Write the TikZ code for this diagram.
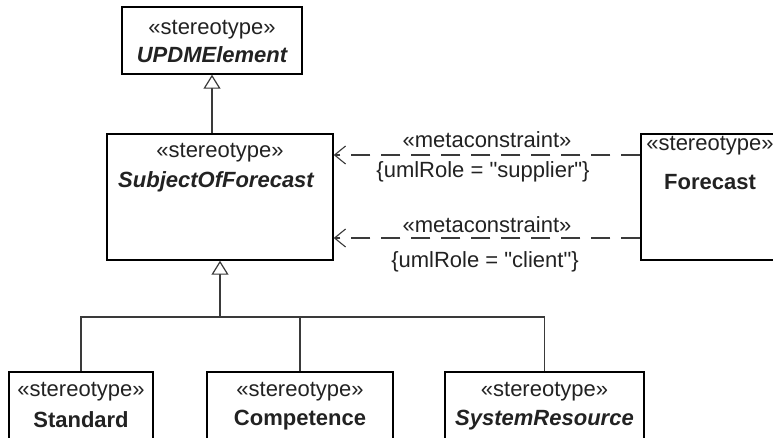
\documentclass[tikz,border=0pt]{standalone}
\usepackage{fontspec}
\setmainfont{Liberation Sans}[Ligatures=TeXOff]
\usetikzlibrary{arrows.meta}
\definecolor{txt}{HTML}{222222}
\definecolor{ln}{HTML}{3A3A3A}
\tikzset{
  umlbox/.style={draw=black, line width=1.4pt, fill=white, inner sep=0pt},
  lbl/.style={inner sep=0pt, text=txt, font=\fontsize{22}{26}\selectfont},
  nm/.style={lbl, font=\fontsize{22}{26}\selectfont\bfseries},
  nmi/.style={lbl, font=\fontsize{22}{26}\selectfont\bfseries\itshape},
  gen/.style={draw=ln, line width=1.2pt, -{Triangle[open, length=14pt, width=17pt, fill=white]}},
  tree/.style={draw=ln, line width=1.2pt},
  dep/.style={draw=ln, line width=1.2pt, dash pattern=on 19pt off 11pt, -{Straight Barb[length=11pt, width=18pt, line width=1.1pt]}}
}
\begin{document}
\begin{tikzpicture}[x=1pt, y=-1pt]
\clip (0,0) rectangle (773,437);
\fill[white] (0,0) rectangle (773,437);
% boxes
\node[umlbox, minimum width=180pt, minimum height=67pt] (upd) at (212,40.5) {};
\node[umlbox, minimum width=226pt, minimum height=126pt] (sof) at (220,197) {};
\node[umlbox, minimum width=138pt, minimum height=126pt] (fc) at (710,197) {};
\node[umlbox, minimum width=144pt, minimum height=88pt] (std) at (81,416) {};
\node[umlbox, minimum width=186pt, minimum height=88pt] (comp) at (300,416) {};
\node[umlbox, minimum width=199pt, minimum height=88pt] (sys) at (544.5,416) {};
% texts
\node[lbl] (updS) at (212,30) {«stereotype»};
\node[nmi] (updN) at (212,55) {UPDMElement};
\node[lbl] (sofS) at (220,153) {«stereotype»};
\node[nmi] (sofN) at (216,182) {SubjectOfForecast};
\node[lbl] (fcS) at (710,146) {«stereotype»};
\node[nm] (fcN) at (710,182) {Forecast};
\node[lbl] (stdS) at (81,392) {«stereotype»};
\node[nm] (stdN) at (81,420) {Standard};
\node[lbl] (compS) at (300,392) {«stereotype»};
\node[nm] (compN) at (300,420) {Competence};
\node[lbl] (sysS) at (544.5,392) {«stereotype»};
\node[nmi] (sysN) at (544.5,420) {SystemResource};
% generalizations
\coordinate (j) at (220,317);
\draw[gen] (upd.south |- sof.north) -- (upd.south);
\draw[tree] (std.north) -- (std.north |- j) -| (sys.north);
\draw[tree] (comp.north) -- (comp.north |- j);
\draw[gen] (j) -- (sof.south);
% dependencies
\draw[dep] (fc.west |- 0,155) -- (sof.east |- 0,155);
\draw[dep] (fc.west |- 0,238) -- (sof.east |- 0,238);
\node[lbl] (m1) at (487,140) {«metaconstraint»};
\node[lbl] (r1) at (483,172) {\{umlRole = "supplier"\}};
\node[lbl] (m2) at (487,225) {«metaconstraint»};
\node[lbl] (r2) at (485,262) {\{umlRole = "client"\}};
\end{tikzpicture}
\end{document}
